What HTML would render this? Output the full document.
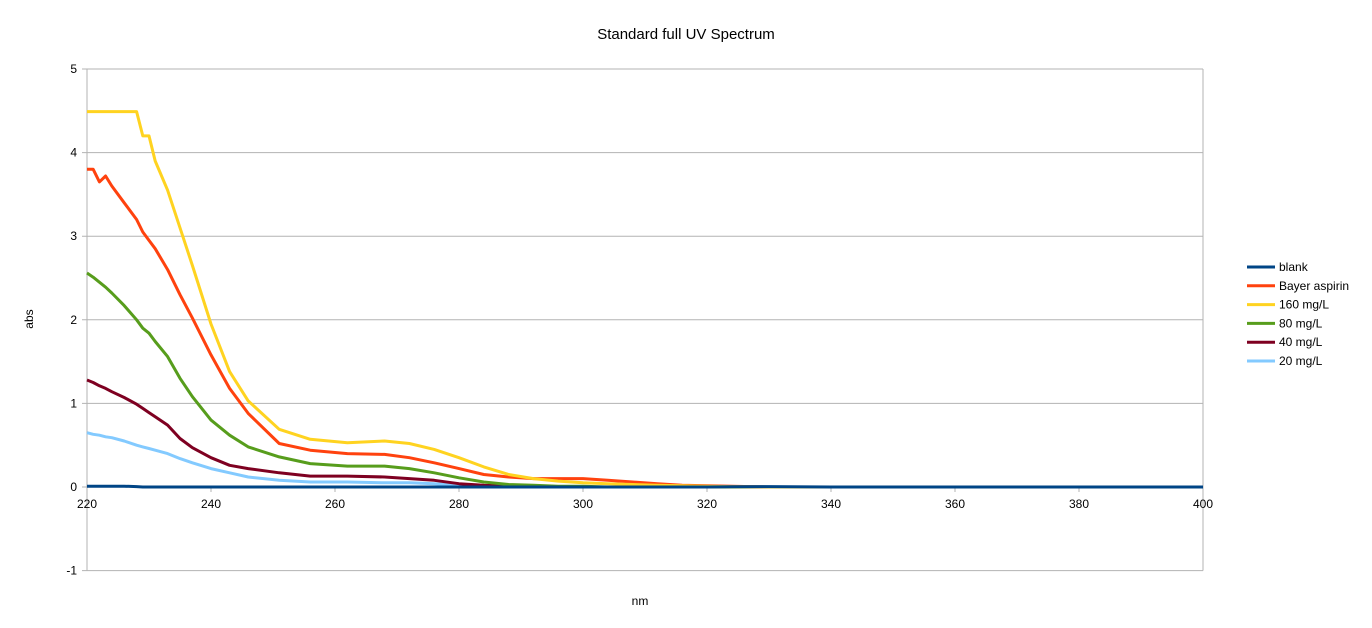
<!DOCTYPE html>
<html><head><meta charset="utf-8"><style>
body{margin:0;background:#fff;}
svg{display:block;font-family:"Liberation Sans",sans-serif;}
</style></head><body>
<svg id="chart" width="1372" height="628">
<text x="686" y="39" font-size="15" text-anchor="middle" fill="#000">Standard full UV Spectrum</text>
<g id="grid"></g><g id="series"></g><g id="axes"></g><g id="legend"></g>
<text x="33" y="319" font-size="12" text-anchor="middle" transform="rotate(-90 33 319)">abs</text>
<text x="640" y="605" font-size="12" text-anchor="middle">nm</text>
</svg>
<script>
const wavelengths=[220,221,222,223,224,226,228,229,230,231,233,235,237,240,243,246,251,256,262,268,272,276,280,284,288,292,296,300,304,308,312,316,320,324,330,340,400];
const blank=[0.01,0.01,0.01,0.01,0.01,0.01,0.005,0,0,0,0,0,0,0,0,0,0,0,0,0,0,0,0,0,0,0,0,0,0,0,0,0,0,0.003,0.005,0,0];
const bayer=[3.8,3.8,3.65,3.72,3.6,3.4,3.2,3.05,2.95,2.85,2.6,2.3,2.02,1.58,1.18,0.88,0.52,0.44,0.4,0.39,0.35,0.29,0.22,0.15,0.12,0.1,0.1,0.1,0.08,0.06,0.04,0.02,0.015,0.01,0,0,0];
const c160=[4.49,4.49,4.49,4.49,4.49,4.49,4.49,4.2,4.2,3.9,3.55,3.1,2.65,1.95,1.38,1.03,0.69,0.57,0.53,0.55,0.52,0.45,0.35,0.24,0.15,0.1,0.07,0.05,0.04,0.03,0.02,0.015,0.01,0.005,0,0,0];
const c80=[2.56,2.51,2.45,2.39,2.32,2.17,2.0,1.9,1.84,1.74,1.56,1.3,1.08,0.8,0.62,0.48,0.36,0.28,0.25,0.25,0.22,0.17,0.11,0.06,0.03,0.02,0.01,0.01,0,0,0,0,0,0,0,0,0];
const c40=[1.28,1.25,1.21,1.18,1.14,1.07,0.99,0.94,0.89,0.84,0.74,0.58,0.47,0.35,0.26,0.22,0.17,0.13,0.13,0.12,0.1,0.08,0.04,0.02,0.01,0,0,0,0,0,0,0,0,0,0,0,0];
const c20=[0.65,0.63,0.62,0.6,0.59,0.55,0.5,0.48,0.46,0.44,0.4,0.34,0.29,0.22,0.17,0.12,0.08,0.06,0.06,0.05,0.05,0.04,0.02,0.01,0,0,0,0,0,0,0,0,0,0,0,0,0];
const seriesNames=["blank","Bayer aspirin","160 mg/L","80 mg/L","40 mg/L","20 mg/L"];
const seriesColors=["#004586","#ff420e","#ffd320","#579d1c","#7e0021","#83caff"];
const xTicks=[220,240,260,280,300,320,340,360,380,400];
const yTicks=[-1,0,1,2,3,4,5];
const NS="http://www.w3.org/2000/svg";
const X0=87,X1=1203,Y5=69,Y0=487;
const xs=v=>X0+(v-220)/(400-220)*(X1-X0);
const ys=v=>Y0-(v)*(Y0-Y5)/5;
function mk(tag,attrs,parent){const e=document.createElementNS(NS,tag);for(const k in attrs)e.setAttribute(k,attrs[k]);parent.appendChild(e);return e;}
const grid=document.getElementById('grid'),axes=document.getElementById('axes'),ser=document.getElementById('series'),leg=document.getElementById('legend');
yTicks.forEach(t=>{
  const l=mk('line',{x1:X0-5,x2:X1,y1:ys(t),y2:ys(t),stroke:'#b3b3b3','stroke-width':1},grid);
  
  
  const tx=mk('text',{x:X0-10,y:ys(t)+4,'font-size':12,'text-anchor':'end'},axes);tx.textContent=t;
  
  
});
mk('line',{x1:X0,x2:X0,y1:Y5,y2:ys(-1),stroke:'#b3b3b3'},grid);
mk('line',{x1:X1,x2:X1,y1:Y5,y2:ys(-1),stroke:'#b3b3b3'},grid);
xTicks.forEach(t=>{
  const l=mk('line',{x1:xs(t),x2:xs(t),y1:Y0,y2:Y0+5,stroke:'#b3b3b3'},grid);
  
  
  const tx=mk('text',{x:xs(t),y:Y0+21,'font-size':12,'text-anchor':'middle'},axes);tx.textContent=t;
  
  
});
const allSeries=[blank,bayer,c160,c80,c40,c20];
const drawOrder=[5,4,3,1,2,0];
drawOrder.forEach(i=>{
  const d=wavelengths.map((w,j)=>(j?'L':'M')+xs(w).toFixed(1)+' '+ys(allSeries[i][j]).toFixed(1)).join(' ');
  const p=mk('path',{d:d,fill:'none',stroke:seriesColors[i],'stroke-width':3,'stroke-linejoin':'round'},ser);
  
  
});
seriesNames.forEach((n,i)=>{
  const y=267+i*18.8;
  const g=mk('g',{},leg);
  
  
  mk('line',{x1:1247,x2:1275,y1:y,y2:y,stroke:seriesColors[i],'stroke-width':3},g);
  const t=mk('text',{x:1279,y:y+4,'font-size':12},g);t.textContent=n;
});
</script>
</body></html>
